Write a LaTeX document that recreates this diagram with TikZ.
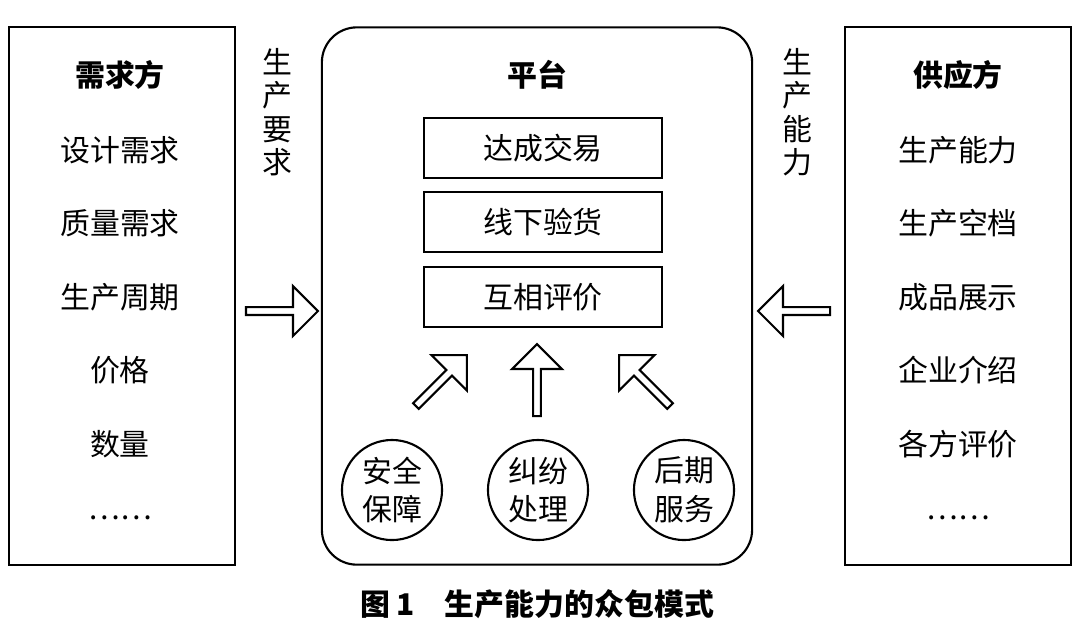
\documentclass[tikz,border=0pt]{standalone}
\usepackage{fontspec}
\setmainfont{Noto Sans CJK SC}
\usetikzlibrary{shapes.arrows}
\begin{document}
\begin{tikzpicture}[x=0.01cm,y=-0.01cm,line width=0.6pt,
        every node/.style={font=\fontsize{8.5}{10}\selectfont},
        panel/.style={draw,minimum width=2.25cm,minimum height=5.37cm},
        stage/.style={draw,minimum width=2.37cm,minimum height=0.6cm},
        guard/.style={draw,circle,minimum size=1.0cm,inner sep=0pt,align=center,font=\fontsize{8.5}{11}\selectfont},
        fat/.style={draw,single arrow,shape border uses incircle,minimum height=0.72cm,minimum width=0.5cm,single arrow head extend=0.08cm,inner sep=0pt},
        title/.style={font=\fontsize{8.5}{10}\selectfont\bfseries}]
  \useasboundingbox (0,0) rectangle (1081,638);
  % three panels
  \node[panel] (dem) at (122,296) {};
  \node[panel] (sup) at (958,296) {};
  \node[draw,rounded corners=0.35cm,minimum width=4.3cm,minimum height=5.37cm] (plat) at (537,296) {};
  \node[title] (demh) at (120,75) {需求方};
  \node[title] (suph) at (958,75) {供应方};
  \node[title] (plath) at (537,75) {平台};
  \foreach \t [count=\i] in {设计需求,质量需求,生产周期,价格,数量,……}
    \node (d\i) at (120,{150+73.5*(\i-1)}) {\t};
  \foreach \t [count=\i] in {生产能力,生产空档,成品展示,企业介绍,各方评价,……}
    \node (s\i) at (958,{150+73.5*(\i-1)}) {\t};
  % platform stages
  \node[stage] (deal) at (543,148) {达成交易};
  \node[stage] (check) at (543,222) {线下验货};
  \node[stage] (rate) at (543,297) {互相评价};
  \node[guard] (safe) at (392,490) {安全\\保障};
  \node[guard] (fix) at (538,490) {纠纷\\处理};
  \node[guard] (after) at (684,490) {后期\\服务};
  \node[fat,shape border rotate=45] (a1) at (440,382) {};
  \node[fat,shape border rotate=90] (a2) at (537,382) {};
  \node[fat,shape border rotate=135] (a3) at (646,382) {};
  % side flows
  \node[align=center,font=\fontsize{8.5}{9.5}\selectfont] (req) at (277,112) {生\\产\\要\\求};
  \node[align=center,font=\fontsize{8.5}{9.5}\selectfont] (cap) at (797,112) {生\\产\\能\\力};
  \node[fat] (ain) at (280,311) {};
  \node[fat,shape border rotate=180] (aout) at (796,311) {};
  \node[title] (cap1) at (537,604) {图 1\quad 生产能力的众包模式};
\end{tikzpicture}
\end{document}
